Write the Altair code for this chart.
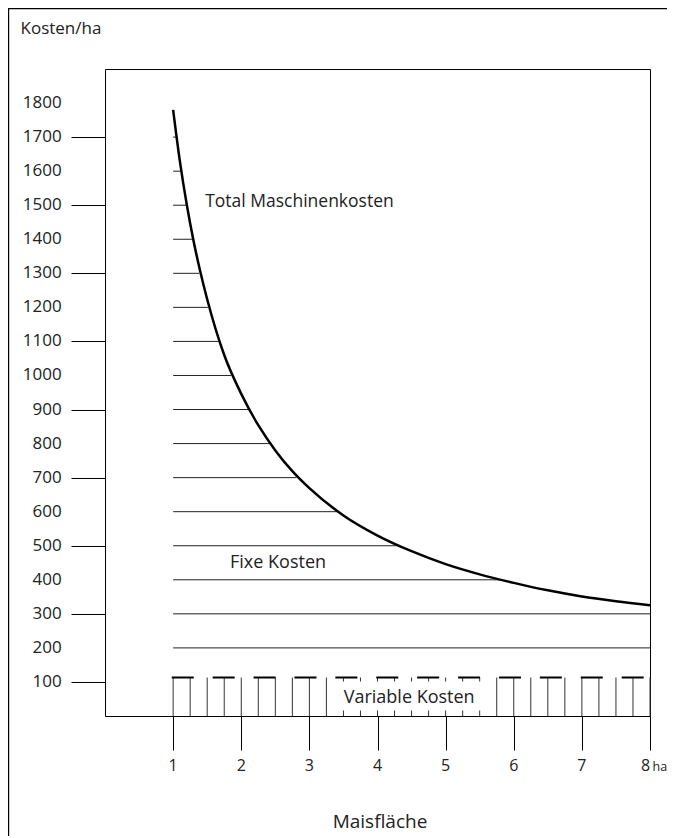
import altair as alt
import pandas as pd

# ---- data ----
curve_x = [1.0, 1.1, 1.2, 1.3, 1.4, 1.5, 1.75, 2.0, 2.25, 2.5, 2.75, 3.0, 3.5, 4.0, 4.5, 5.0, 5.5, 6.0, 6.5, 7.0, 7.5, 8.0]
curve_cost = [1780, 1628, 1502, 1395, 1304, 1224, 1060, 946, 854, 780, 719, 669, 589, 530, 484, 446, 416, 391, 369, 351, 337, 325]

fixed_levels = [200, 300, 400, 500, 600, 700, 800, 900, 1000, 1100, 1200, 1300, 1400, 1500, 1600, 1700]
fixed_end_x = [8.0, 8.0, 5.82, 4.28, 3.41, 2.81, 2.42, 2.11, 1.85, 1.67, 1.51, 1.38, 1.28, 1.19, 1.11, 1.045]

variable_level = 113
minor_x = [1, 1.25, 1.5, 1.75, 2, 2.25, 2.5, 2.75, 3, 3.25, 3.5, 3.75, 4, 4.25, 4.5, 4.75,
           5, 5.25, 5.5, 5.75, 6, 6.25, 6.5, 6.75, 7, 7.25, 7.5, 7.75, 8]

y_ticks = [100, 200, 300, 400, 500, 600, 700, 800, 900, 1000, 1100, 1200, 1300, 1400, 1500, 1600, 1700, 1800]
x_ticks = [1, 2, 3, 4, 5, 6, 7, 8]
x_tick_labels = ["1", "2", "3", "4", "5", "6", "7", ""]
last_label = "8"
x_unit = "ha"

FONT = "Open Sans"
TXT = "#222222"
W, H = 545, 647
PL, PT, PR, PB = 97, 61, 17, 120

xs = alt.Scale(domain=[0, 8], nice=False, zero=False)
ys = alt.Scale(domain=[0, 1900], nice=False, zero=False)

curve_df = pd.DataFrame({"x": curve_x, "cost": curve_cost})
fixed_df = pd.DataFrame({"x": [1.0] * len(fixed_levels), "x2": fixed_end_x, "y": fixed_levels})
minor_df = pd.DataFrame({"x": minor_x, "y": [0] * len(minor_x), "y2": [variable_level] * len(minor_x)})
var_df = pd.DataFrame({"x": [0.98], "x2": [8.0], "y": [variable_level]})
ytick_df = pd.DataFrame({"v": y_ticks, "t": [str(v) for v in y_ticks]})
xtick_df = pd.DataFrame({"v": x_ticks, "t": x_tick_labels})

x_axis = alt.Axis(values=x_ticks, tickSize=34, tickColor="black", tickWidth=1, domain=False,
                  grid=False, labels=False, title=None)
y_axis = alt.Axis(values=y_ticks, tickSize=34, tickColor="black", tickWidth=1, domain=False,
                  grid=False, labels=False, title=None)

# axes carrier (invisible points)
axes = alt.Chart(curve_df).mark_point(opacity=0).encode(
    x=alt.X("x:Q", scale=xs, axis=x_axis),
    y=alt.Y("cost:Q", scale=ys, axis=y_axis),
)

ylabels = alt.Chart(ytick_df).mark_text(font=FONT, fontSize=17, color=TXT, align="right", baseline="middle").encode(
    x=alt.value(-43.3), y=alt.Y("v:Q", scale=ys), text="t:N"
)
xlabels = alt.Chart(xtick_df).mark_text(font=FONT, fontSize=16, color=TXT, align="center", baseline="alphabetic").encode(
    x=alt.X("v:Q", scale=xs), y=alt.value(702), text="t:N"
)
last_df = pd.DataFrame({"x": [8], "t": [last_label], "u": [x_unit]})
last = alt.Chart(last_df).mark_text(font=FONT, fontSize=16, color=TXT, align="center", baseline="alphabetic", dx=-4.3).encode(
    x=alt.X("x:Q", scale=xs), y=alt.value(702), text="t:N"
)
unit = alt.Chart(last_df).mark_text(font=FONT, fontSize=12.5, color=TXT, align="left", baseline="alphabetic", dx=2.5).encode(
    x=alt.X("x:Q", scale=xs), y=alt.value(702), text="u:N"
)

fixed = alt.Chart(fixed_df).mark_rule(color="#222222", strokeWidth=1).encode(
    x=alt.X("x:Q", scale=xs), x2="x2:Q", y=alt.Y("y:Q", scale=ys)
)

minor = alt.Chart(minor_df).mark_rule(color="#333333", strokeWidth=1).encode(
    x=alt.X("x:Q", scale=xs), y=alt.Y("y:Q", scale=ys), y2="y2:Q"
)

var_line = alt.Chart(var_df).mark_rule(color="black", strokeWidth=2, strokeDash=[22, 18.9]).encode(
    x=alt.X("x:Q", scale=xs), x2="x2:Q", y=alt.Y("y:Q", scale=ys)
)

box_df = pd.DataFrame({"x": [3.31], "x2": [5.64], "y": [16], "y2": [101]})
box = alt.Chart(box_df).mark_rect(color="white").encode(
    x=alt.X("x:Q", scale=xs), x2="x2:Q", y=alt.Y("y:Q", scale=ys), y2="y2:Q"
)

curve = alt.Chart(curve_df).mark_line(color="black", strokeWidth=2.5, interpolate="monotone").encode(
    x=alt.X("x:Q", scale=xs), y=alt.Y("cost:Q", scale=ys)
)


def label(text, x, y, size, align):
    df = pd.DataFrame({"text": [text], "x": [x], "y": [y]})
    return alt.Chart(df).mark_text(font=FONT, fontSize=size, color=TXT, align=align,
                                   baseline="alphabetic").encode(
        x=alt.X("x:Q", scale=xs), y=alt.Y("y:Q", scale=ys), text="text:N")


lab_total = label("Total Maschinenkosten", 1.47, 1495, 17.5, "left")
lab_fix = label("Fixe Kosten", 2.54, 434, 18, "center")
lab_var = label("Variable Kosten", 4.465, 37, 18, "center")

title_df = pd.DataFrame({"text": ["Kosten/ha"]})
ytitle = alt.Chart(title_df).mark_text(font=FONT, fontSize=17, color=TXT, align="left", baseline="alphabetic").encode(
    x=alt.value(-84.5), y=alt.value(-34.7), text="text:N"
)
xtitle_df = pd.DataFrame({"text": ["Maisfläche"]})
xtitle = alt.Chart(xtitle_df).mark_text(font=FONT, fontSize=19, color=TXT, align="center", baseline="alphabetic").encode(
    x=alt.value(275), y=alt.value(759.3), text="text:N"
)

frame_df = pd.DataFrame({"k": [0]})
frame_top = alt.Chart(frame_df).mark_rule(color="black", strokeWidth=1.2).encode(
    x=alt.value(-PL), x2=alt.value(W + PR), y=alt.value(-PT + 0.6)
)
frame_left = alt.Chart(frame_df).mark_rule(color="black", strokeWidth=1.2).encode(
    x=alt.value(-PL + 0.6), y=alt.value(-PT), y2=alt.value(H + PB)
)

chart = alt.layer(
    axes, fixed, minor, var_line, box, curve, lab_total, lab_fix, lab_var,
    ylabels, xlabels, last, unit, ytitle, xtitle, frame_top, frame_left
).properties(
    width=W, height=H,
    autosize=alt.AutoSizeParams(type="none"),
    padding={"left": PL, "top": PT, "right": PR, "bottom": PB},
    background="white",
).configure_view(
    stroke="black", strokeWidth=1
)

chart.save("out.html", embed_options={"renderer": "svg", "actions": False})
